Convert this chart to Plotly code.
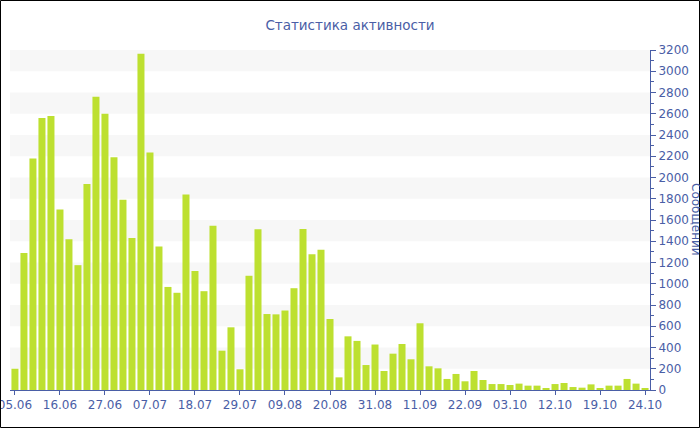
import plotly.graph_objects as go

# Data
values = [200, 1290, 2180, 2560, 2580, 1700, 1420, 1175, 1940, 2760,
          2600, 2190, 1790, 1430, 3165, 2235, 1350, 970, 915, 1840,
          1120, 930, 1545, 370, 590, 195, 1075, 1512, 715, 712,
          748, 958, 1515, 1278, 1320, 668, 119, 505, 462, 235,
          428, 179, 342, 433, 289, 628, 223, 204, 104, 151,
          82, 179, 94, 56, 56, 47, 60, 41, 41, 19,
          56, 66, 28, 22, 53, 19, 41, 41, 104, 60, 16]
tick_labels = ["05.06", "16.06", "27.06", "07.07", "18.07", "29.07", "09.08",
               "20.08", "31.08", "11.09", "22.09", "03.10", "12.10", "19.10", "24.10"]
tick_step = 5
title_text = "Статистика активности"
y_title = "Сообщений"

x = list(range(len(values)))
tick_vals = [i * tick_step for i in range(len(tick_labels))]

BLUE = "#4a5ea6"
BAR = "#bde030"
FONT = "DejaVu Sans"

fig = go.Figure(go.Bar(x=x, y=values, marker=dict(color=BAR, line=dict(width=0))))

W, H = 700, 430
L, R, T, B = 10, 50, 50, 40
pw, ph = W - L - R, H - T - B

shapes = []
for lo in range(200, 3200, 400):
    shapes.append(dict(type="rect", xref="paper", yref="y", x0=0, x1=1, y0=lo, y1=lo + 200,
                       fillcolor="#f7f7f7", line=dict(width=0), layer="below"))
# outer frame
shapes.append(dict(type="rect", xref="paper", yref="paper",
                   x0=(0.5 - L) / pw, x1=(699.5 - L) / pw,
                   y0=(H - B - 427.5) / ph, y1=(H - B - 0.5) / ph,
                   line=dict(color="black", width=1), fillcolor="rgba(0,0,0,0)"))

fig.update_layout(
    width=W, height=H,
    margin=dict(l=L, r=R, t=T, b=B, autoexpand=False),
    paper_bgcolor="white", plot_bgcolor="white",
    font=dict(family=FONT, size=11, color=BLUE),
    title=dict(text=title_text, x=0.5, xref="container", xanchor="center",
               y=1 - 25 / H, yref="container", yanchor="middle",
               font=dict(family=FONT, size=13.5, color=BLUE)),
    bargap=0.22,
    showlegend=False,
    shapes=shapes,
    xaxis=dict(range=[-0.55, len(values) - 0.45], tickmode="array", tickvals=tick_vals,
               ticktext=tick_labels, showgrid=False, zeroline=False, automargin=False,
               ticklabeloverflow="allow",
               showline=True, linecolor=BLUE, linewidth=1,
               ticks="outside", ticklen=4, tickcolor=BLUE,
               tickfont=dict(family=FONT, size=12, color=BLUE)),
    yaxis=dict(side="right", range=[0, 3200], dtick=200, showgrid=False, zeroline=False,
               automargin=False, ticklabeloverflow="allow",
               showline=True, linecolor=BLUE, linewidth=1,
               ticks="outside", ticklen=5, tickcolor=BLUE,
               minor=dict(dtick=100, ticks="outside", ticklen=3, tickcolor=BLUE),
               tickfont=dict(family=FONT, size=12, color=BLUE)),
    annotations=[dict(text=y_title, xref="paper", yref="paper",
                      x=(696 - L) / pw, y=(H - B - 219) / ph, textangle=90,
                      showarrow=False, xanchor="center", yanchor="middle",
                      font=dict(family=FONT, size=12, color=BLUE))],
)

fig.write_html("out.html", config={"displayModeBar": False},
               post_script="document.body.style.margin='0';")
